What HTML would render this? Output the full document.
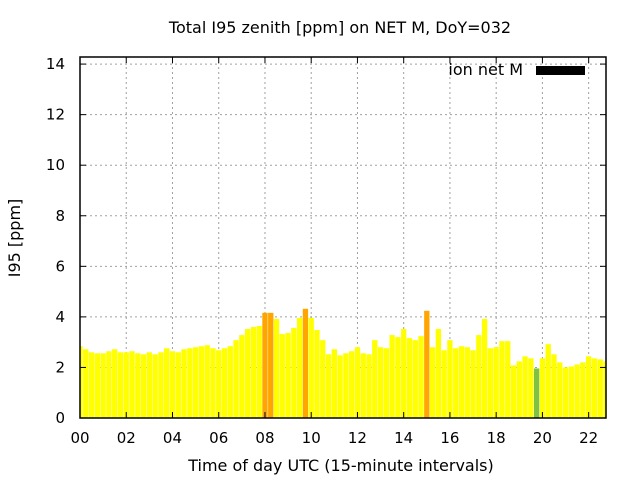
<!DOCTYPE html>
<html><head><meta charset="utf-8"><style>
html,body{margin:0;padding:0;background:#fff;}
svg{display:block;font-family:"DejaVu Sans","Liberation Sans",sans-serif;}
</style></head><body>
<svg id="chart" width="640" height="480">
<g id="grid"></g>
<g id="bars"></g>
<g id="axes"></g>
<text x="340" y="33" text-anchor="middle" font-size="16">Total I95 zenith [ppm] on NET M, DoY=032</text>
<text x="341" y="471" text-anchor="middle" font-size="16">Time of day UTC (15-minute intervals)</text>
<text transform="translate(20,238) rotate(-90)" text-anchor="middle" font-size="16">I95 [ppm]</text>
<g>
<text x="523" y="75" text-anchor="end" font-size="16">ion net M</text>
<rect x="536" y="66" width="49" height="9" fill="#000"></rect>
</g>
</svg>
<script>
const values=[2.84,2.72,2.6,2.56,2.56,2.64,2.72,2.6,2.6,2.64,2.56,2.52,2.6,2.52,2.6,2.76,2.64,2.6,2.72,2.76,2.8,2.84,2.88,2.76,2.68,2.76,2.84,3.08,3.28,3.52,3.6,3.64,4.16,4.16,3.92,3.32,3.36,3.56,3.96,4.32,3.96,3.48,3.08,2.52,2.72,2.48,2.56,2.64,2.8,2.56,2.52,3.08,2.8,2.76,3.28,3.2,3.52,3.16,3.08,3.24,4.24,2.8,3.52,2.68,3.08,2.76,2.84,2.8,2.68,3.28,3.92,2.76,2.8,3.04,3.04,2.08,2.24,2.44,2.36,1.96,2.36,2.92,2.52,2.2,2.0,2.04,2.12,2.2,2.44,2.36,2.32,2.24];
const xTicks=[0,2,4,6,8,10,12,14,16,18,20,22];
const xTickLabels=["00","02","04","06","08","10","12","14","16","18","20","22"];
const yTicks=[0,2,4,6,8,10,12,14];
const L=80,R=606,T=57,B=418,XMAX=22.75,YMAX=14.28;
const NS="http://www.w3.org/2000/svg";
const sx=h=>L+h*(R-L)/XMAX;
const sy=v=>B-v*(B-T)/YMAX;
function mk(tag,attrs,parent){const e=document.createElementNS(NS,tag);for(const k in attrs)e.setAttribute(k,attrs[k]);parent.appendChild(e);return e;}
const grid=document.getElementById('grid'),bars=document.getElementById('bars'),axes=document.getElementById('axes');
function color(v){if(v<2)return '#7fc241';if(v>=4)return '#ffa500';return '#ffff00';}
values.forEach((v,i)=>{
  const c=i*0.25;let x0=sx(c-0.115),x1=sx(c+0.115);
  x0=Math.max(x0,L);x1=Math.min(x1,R);
  const r=mk('rect',{x:x0,y:sy(v),width:x1-x0,height:B-sy(v),fill:color(v)},bars);
  
  
});
xTicks.forEach((t,i)=>{
  const x=sx(t);
  if(t>0){const g=mk('line',{x1:x,x2:x,y1:T,y2:B,stroke:'#a0a0a0','stroke-dasharray':'2,3'},grid);
  }
  mk('line',{x1:x,x2:x,y1:B,y2:B-6,stroke:'#000'},axes);
  mk('line',{x1:x,x2:x,y1:T,y2:T+6,stroke:'#000'},axes);
  const tx=mk('text',{x:x,y:443,'text-anchor':'middle','font-size':15},axes);
  tx.textContent=xTickLabels[i];
  
  
});
yTicks.forEach(t=>{
  const y=sy(t);
  if(t>0){const g=mk('line',{x1:L,x2:R,y1:y,y2:y,stroke:'#a0a0a0','stroke-dasharray':'2,3'},grid);
  }
  mk('line',{x1:L,x2:L+6,y1:y,y2:y,stroke:'#000'},axes);
  mk('line',{x1:R,x2:R-6,y1:y,y2:y,stroke:'#000'},axes);
  const tx=mk('text',{x:65,y:y+5,'text-anchor':'end','font-size':15},axes);
  tx.textContent=String(t);
  
  
});
const fr=mk('rect',{x:L,y:T,width:R-L,height:B-T,fill:'none',stroke:'#000','stroke-width':1.5},axes);


</script>
</body></html>
